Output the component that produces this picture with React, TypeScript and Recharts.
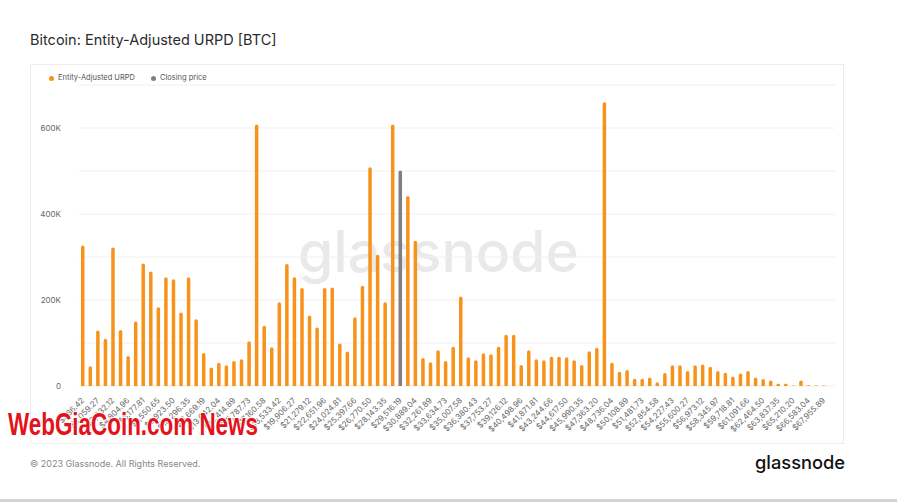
import { Bar, BarChart, CartesianGrid, Cell, Legend, XAxis, YAxis } from "recharts";

// bin upper bounds (USD), one per bar
const bins: string[] = [
  "$686.42", "$1,372.85", "$2,059.27", "$2,745.69", "$3,432.12", "$4,118.54", "$4,804.96", "$5,491.39", "$6,177.81", "$6,864.23",
  "$7,550.65", "$8,237.08", "$8,923.50", "$9,609.92", "$10,296.35", "$10,982.77", "$11,669.19", "$12,355.62", "$13,042.04", "$13,728.46",
  "$14,414.89", "$15,101.31", "$15,787.73", "$16,474.16", "$17,160.58", "$17,847.00", "$18,533.42", "$19,219.85", "$19,906.27", "$20,592.69",
  "$21,279.12", "$21,965.54", "$22,651.96", "$23,338.39", "$24,024.81", "$24,711.23", "$25,397.66", "$26,084.08", "$26,770.50", "$27,456.93",
  "$28,143.35", "$28,829.77", "$29,516.19", "$30,202.62", "$30,889.04", "$31,575.46", "$32,261.89", "$32,948.31", "$33,634.73", "$34,321.16",
  "$35,007.58", "$35,694.00", "$36,380.43", "$37,066.85", "$37,753.27", "$38,439.70", "$39,126.12", "$39,812.54", "$40,498.96", "$41,185.39",
  "$41,871.81", "$42,558.23", "$43,244.66", "$43,931.08", "$44,617.50", "$45,303.93", "$45,990.35", "$46,676.77", "$47,363.20", "$48,049.62",
  "$48,736.04", "$49,422.47", "$50,108.89", "$50,795.31", "$51,481.73", "$52,168.16", "$52,854.58", "$53,541.00", "$54,227.43", "$54,913.85",
  "$55,600.27", "$56,286.70", "$56,973.12", "$57,659.54", "$58,345.97", "$59,032.39", "$59,718.81", "$60,405.24", "$61,091.66", "$61,778.08",
  "$62,464.50", "$63,150.93", "$63,837.35", "$64,523.77", "$65,210.20", "$65,896.62", "$66,583.04", "$67,269.47", "$67,955.89", "$68,642.31",
];

// supply held per price bin (BTC)
const supply: number[] = [
  327000, 46000, 129000, 110000, 322000, 130000, 70000, 150000, 285000, 266000,
  183000, 253000, 248000, 171000, 253000, 155000, 77000, 43000, 54000, 48000,
  58000, 62000, 104000, 608000, 140000, 90000, 195000, 284000, 253000, 228000,
  164000, 136000, 228000, 229000, 99000, 80000, 160000, 233000, 509000, 305000,
  195000, 608000, 501000, 442000, 338000, 65000, 55000, 83000, 58000, 91000,
  208000, 67000, 60000, 76000, 74000, 91000, 119000, 119000, 49000, 83000,
  62000, 60000, 68000, 68000, 67000, 60000, 49000, 81000, 89000, 660000,
  54000, 33000, 37000, 17000, 17000, 20000, 9000, 30000, 48000, 48000,
  35000, 48000, 50000, 45000, 35000, 31000, 22000, 29000, 35000, 20000,
  16000, 13000, 5000, 5000, 1000, 13000, 2000, 1000, 1000, 0,
];

// bin holding the closing price
const closingBin = "$29,516.19";

const yTicks = [0, 100000, 200000, 300000, 400000, 500000, 600000, 700000];

const ORANGE = "#f7931a";
const GREY = "#7f7f7f";
const FONT = "Inter, 'Noto Sans', sans-serif";

const data = bins.map((bin, i) => ({
  bin,
  urpd: bin === closingBin ? null : supply[i],
  closing: bin === closingBin ? supply[i] : null,
}));

function PriceTick(props: any) {
  const { x, y, payload, index } = props;
  if (index % 2 !== 0) return null;
  return (
    <g transform={`translate(${x + 2},${y + 13})`}>
      <text
        x={0}
        y={0}
        textAnchor="end"
        transform="rotate(-45)"
        fontSize={8}
        fontFamily={FONT}
        fill="#666"
      >
        {payload.value}
      </text>
    </g>
  );
}

function LegendBox() {
  const item = (color: string, label: string, w: number) => (
    <span style={{ display: "inline-flex", alignItems: "center", width: w }}>
      <span
        style={{
          width: 5,
          height: 5,
          borderRadius: "50%",
          background: color,
          marginRight: 4,
        }}
      />
      {label}
    </span>
  );
  return (
    <div style={{ fontFamily: FONT, fontSize: 7.5, color: "#555", display: "flex", height: 10, lineHeight: "10px" }}>
      {item(ORANGE, "Entity-Adjusted URPD", 102)}
      {item(GREY, "Closing price", 80)}
    </div>
  );
}

export default function App() {
  return (
    <div
      style={{
        position: "absolute",
        left: 0,
        top: 0,
        width: 897,
        height: 502,
        background: "#fff",
        overflow: "hidden",
      }}
    >
      <svg width={897} height={502} style={{ position: "absolute", left: 0, top: 0 }}>
        <text x={30} y={45} fontFamily={FONT} fontSize={14.5} fontWeight={400} fill="#2b2b2b">
          Bitcoin: Entity-Adjusted URPD [BTC]
        </text>
        <rect x={30.5} y={64.5} width={813} height={379} fill="#fff" stroke="#ececec" />
        <text x={298} y={272} fontFamily={FONT} fontSize={57} fontWeight={500} fill="#e9e9e9">
          glassnode
        </text>
        <text x={30} y={467} fontFamily={FONT} fontSize={9} fill="#888">
          © 2023 Glassnode. All Rights Reserved.
        </text>
        <text x={755} y={469} fontFamily={FONT} fontSize={18.3} fontWeight={500} fill="#111">
          glassnode
        </text>
        <rect x={0} y={499} width={897} height={3} fill="#d4d4d4" />
      </svg>

      <div style={{ position: "absolute", left: 0, top: 0 }}>
        <BarChart
          width={897}
          height={502}
          data={data}
          margin={{ top: 75, right: 62, bottom: 56, left: 39 }}
        >
          <CartesianGrid vertical={false} stroke="#f0f0f0" />
          <XAxis
            dataKey="bin"
            interval={0}
            tickLine={false}
            axisLine={false}
            tickSize={0}
            height={60}
            tick={<PriceTick />}
          />
          <YAxis
            width={40}
            domain={[0, 700000]}
            ticks={yTicks}
            tickLine={false}
            axisLine={false}
            tickSize={0}
            tickMargin={18}
            tick={{ fontSize: 8, fontFamily: FONT, fill: "#666" }}
            tickFormatter={(v: number) =>
              v === 0 ? "0" : v % 200000 === 0 ? `${v / 1000}K` : ""
            }
          />
          <Legend
            verticalAlign="top"
            align="left"
            content={<LegendBox />}
            wrapperStyle={{ position: "absolute", top: 73, left: 49, width: 300, height: 10 }}
          />
          <Bar
            dataKey="urpd"
            name="Entity-Adjusted URPD"
            stackId="a"
            fill={ORANGE}
            barSize={3.5}
            radius={[1.75, 1.75, 0, 0]}
            isAnimationActive={false}
          >
            {data.map((d) => (
              <Cell key={d.bin} fill={ORANGE} />
            ))}
          </Bar>
          <Bar
            dataKey="closing"
            name="Closing price"
            stackId="a"
            fill={GREY}
            barSize={3.5}
            radius={[1.75, 1.75, 0, 0]}
            isAnimationActive={false}
          />
        </BarChart>
      </div>

      <svg width={897} height={502} style={{ position: "absolute", left: 0, top: 0, pointerEvents: "none" }}>
        <text
          x={8}
          y={435}
          textLength={250}
          lengthAdjust="spacingAndGlyphs"
          fontFamily="'Liberation Sans', Arial, sans-serif"
          fontSize={31}
          fontWeight={900}
          fill="#e3121b"
          stroke="#fff"
          strokeWidth={2}
          paintOrder="stroke"
        >
          WebGiaCoin.com News
        </text>
      </svg>
    </div>
  );
}
